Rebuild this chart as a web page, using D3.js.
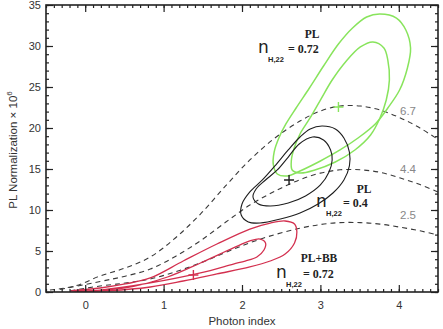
<!DOCTYPE html>
<html>
<head>
<meta charset="utf-8">
<script src="https://cdn.jsdelivr.net/npm/d3@7"></script>
<style>
body { margin: 0; background: #fff; }
svg { display: block; }
.tick text { font-family: "Liberation Sans", Arial, sans-serif; font-size: 11px; fill: #333; }
</style>
</head>
<body>
<div id="chart"></div>
<script>
/**** DATA (photon index, PL normalization x 1e6) *****/
const xTicks = [0, 1, 2, 3, 4];
const yTicks = [0, 5, 10, 15, 20, 25, 30, 35];

// constant flux curves
const flux67 = [[-0.45,0.24],[-0.13,0.73],[0.19,1.95],[0.51,2.93],[0.83,4.27],[1.15,6.59],[1.47,9.51],[1.79,12.93],[2.10,16.1],[2.42,18.78],[2.74,20.85],[3.0,22.07],[3.25,22.68],[3.51,22.68],[3.76,22.2],[4.02,21.22],[4.27,20.0],[4.5,18.6]];
const flux44 = [[-0.32,0.3],[0.19,1.28],[0.51,1.93],[0.83,2.8],[1.15,4.33],[1.47,6.25],[1.79,8.5],[2.10,10.6],[2.42,12.3],[2.74,13.7],[3.0,14.5],[3.25,14.9],[3.51,14.9],[3.76,14.6],[4.02,13.9],[4.27,13.1],[4.5,12.2]];
const flux25 = [[-0.19,0.15],[0.19,0.73],[0.51,1.09],[0.83,1.59],[1.15,2.46],[1.47,3.55],[1.79,4.82],[2.10,6.0],[2.42,7.0],[2.74,7.78],[3.0,8.23],[3.25,8.46],[3.51,8.46],[3.76,8.28],[4.02,7.9],[4.27,7.46],[4.5,6.95]];
const fluxLabels = ['6.7', '4.4', '2.5'];

// confidence contours
const greenOuter = [[3.76,33.9],[3.97,33.41],[4.09,31.95],[4.15,29.76],[4.11,27.32],[4.01,24.63],[3.86,22.44],[3.70,20.49],[3.48,18.78],[3.25,17.32],[3.0,15.98],[2.74,14.76],[2.58,14.15],[2.45,14.39],[2.40,15.49],[2.41,17.07],[2.47,18.78],[2.56,20.49],[2.69,22.44],[2.86,24.88],[3.04,27.56],[3.23,30.24],[3.41,32.2],[3.59,33.54]];
const greenInner = [[3.67,30.49],[3.81,29.76],[3.86,28.29],[3.88,25.85],[3.84,23.41],[3.76,21.22],[3.64,19.15],[3.44,17.32],[3.19,15.85],[2.93,14.88],[2.74,14.51],[2.64,14.88],[2.63,16.1],[2.67,17.68],[2.74,19.27],[2.86,21.1],[3.0,23.41],[3.15,25.85],[3.32,28.05],[3.51,29.88]];
const blackOuter = [[3.02,20.24],[3.19,19.88],[3.30,18.78],[3.37,17.07],[3.37,15.37],[3.30,13.66],[3.16,12.07],[2.97,10.73],[2.74,9.63],[2.49,8.9],[2.23,8.41],[2.08,8.54],[1.99,9.39],[2.0,10.73],[2.10,12.2],[2.26,13.66],[2.42,15.37],[2.59,17.32],[2.74,18.9],[2.87,19.88]];
const blackInner = [[2.90,18.9],[3.04,18.54],[3.13,17.32],[3.15,16.1],[3.11,14.63],[3.0,13.05],[2.81,11.71],[2.59,10.85],[2.36,10.49],[2.21,10.73],[2.14,11.59],[2.18,12.56],[2.30,13.66],[2.45,14.88],[2.59,16.46],[2.73,18.05]];
const redOuter = [[-0.19,0.12],[0.19,0.49],[0.51,0.98],[0.83,1.71],[1.25,3.78],[1.68,5.85],[2.10,7.68],[2.36,8.41],[2.55,8.66],[2.67,8.29],[2.70,7.32],[2.67,5.98],[2.55,4.63],[2.36,3.78],[2.10,3.05],[1.68,2.2],[1.25,1.34],[0.83,0.61],[0.32,0.18]];
const redInner = [[-0.13,0.06],[0.51,0.49],[1.05,1.83],[1.47,3.54],[1.89,5.37],[2.10,6.22],[2.23,6.46],[2.30,5.98],[2.28,5.12],[2.19,4.27],[2.04,3.78],[1.89,3.41],[1.47,2.32],[0.83,1.1],[0.19,0.24]];

// best fits
const bestFits = [[3.23,22.56],[2.6,13.66],[1.38,2.07]];

/**** CHART *****/
const W = 443, H = 329;
const svg = d3.select('#chart').append('svg').attr('width', W).attr('height', H);

const x = d3.scaleLinear().domain([-0.5, 4.5]).range([46, 438]);
const y = d3.scaleLinear().domain([0, 35]).range([292, 5]);

const green = '#88e45c', black = '#1e1e1e', red = '#d3304f';

const line = d3.line().x(d => x(d[0])).y(d => y(d[1])).curve(d3.curveCatmullRom);
const closed = d3.line().x(d => x(d[0])).y(d => y(d[1])).curve(d3.curveCatmullRomClosed);

// flux curves
[flux67, flux44, flux25].forEach(c => {
	svg.append('path').attr('d', line(c)).attr('fill', 'none')
		.attr('stroke', '#3a3a3a').attr('stroke-width', 1.1).attr('stroke-dasharray', '5,4');
});
svg.selectAll('.flab').data(fluxLabels).join('text')
	.attr('x', 408).attr('y', (d,i) => [115, 173, 219][i])
	.attr('text-anchor', 'middle').attr('font-family', 'Liberation Sans, Arial, sans-serif')
	.attr('font-size', 11.5).attr('fill', '#888').text(d => d);

// contours
[[greenOuter, green, 1.5], [greenInner, green, 1.5], [blackOuter, black, 1.1], [blackInner, black, 1.1], [redOuter, red, 1.3], [redInner, red, 1.3]]
	.forEach(c => {
		svg.append('path').attr('d', closed(c[0])).attr('fill', 'none')
			.attr('stroke', c[1]).attr('stroke-width', c[2]);
	});

// crosses
const crossCols = [green, black, red];
bestFits.forEach((p, i) => {
	const cx = x(p[0]), cy = y(p[1]);
	svg.append('path').attr('d', `M${cx-5},${cy}H${cx+5}M${cx},${cy-5}V${cy+5}`)
		.attr('stroke', crossCols[i]).attr('stroke-width', 1.4);
});

// axes, ticks inward on all four sides
const xMinor = d3.range(-0.5, 4.51, 0.1).map(v => +v.toFixed(2));
const yMinor = d3.range(0, 35.01, 1);

function drawAxis(gen, tr) {
	const g = svg.append('g').attr('transform', tr).call(gen);
	g.select('.domain').remove();
	g.selectAll('line').attr('stroke', '#222').attr('stroke-width', 1.2);
	return g;
}
drawAxis(d3.axisBottom(x).tickValues(xMinor).tickSize(-3).tickFormat(''), 'translate(0,292)');
drawAxis(d3.axisBottom(x).tickValues(xTicks).tickSize(-7).tickPadding(9).tickFormat(d3.format('d')), 'translate(0,292)');
drawAxis(d3.axisTop(x).tickValues(xMinor).tickSize(-3).tickFormat(''), 'translate(0,5)');
drawAxis(d3.axisTop(x).tickValues(xTicks).tickSize(-7).tickFormat(''), 'translate(0,5)');
drawAxis(d3.axisLeft(y).tickValues(yMinor).tickSize(-3).tickFormat(''), 'translate(46,0)');
drawAxis(d3.axisLeft(y).tickValues(yTicks).tickSize(-7).tickPadding(5).tickFormat(d3.format('d')), 'translate(46,0)');
drawAxis(d3.axisRight(y).tickValues(yMinor).tickSize(-3).tickFormat(''), 'translate(438,0)');
drawAxis(d3.axisRight(y).tickValues(yTicks).tickSize(-7).tickFormat(''), 'translate(438,0)');

svg.append('rect').attr('x', 46).attr('y', 5).attr('width', 392).attr('height', 287)
	.attr('fill', 'none').attr('stroke', '#222').attr('stroke-width', 1.6);

// axis titles
svg.append('text').attr('x', 242).attr('y', 325).attr('text-anchor', 'middle')
	.attr('font-family', 'Liberation Sans, Arial, sans-serif').attr('font-size', 11.5).attr('fill', '#333')
	.text('Photon index');
const yl = svg.append('text').attr('transform', 'translate(17,150) rotate(-90)').attr('text-anchor', 'middle')
	.attr('font-family', 'Liberation Sans, Arial, sans-serif').attr('font-size', 11.5).attr('fill', '#333');
yl.append('tspan').text('PL Normalization × 10');
yl.append('tspan').attr('dy', -5).attr('font-size', 8).text('6');

// model labels
function modelLabel(title, tx, ty, nx, ny, val, vx) {
	svg.append('text').attr('x', tx).attr('y', ty).attr('text-anchor', 'middle')
		.attr('font-family', 'Liberation Serif, Times, serif').attr('font-weight', 'bold')
		.attr('font-size', 11.5).attr('fill', '#222').text(title);
	svg.append('text').attr('x', nx).attr('y', ny)
		.attr('font-family', 'DejaVu Sans, sans-serif').attr('font-size', 17).attr('fill', '#222').text('n');
	svg.append('text').attr('x', nx + 10).attr('y', ny + 9)
		.attr('font-family', 'Liberation Sans, Arial, sans-serif').attr('font-weight', 'bold')
		.attr('font-size', 7.5).attr('fill', '#222').text('H,22');
	svg.append('text').attr('x', vx).attr('y', ny)
		.attr('font-family', 'Liberation Serif, Times, serif').attr('font-weight', 'bold')
		.attr('font-size', 12).attr('fill', '#222').text('= ' + val);
}
modelLabel('PL', 312, 38, 258, 53, '0.72', 288);
modelLabel('PL', 364, 193, 316, 207, '0.4', 343);
modelLabel('PL+BB', 319, 262, 276, 278, '0.72', 303);
</script>
</body>
</html>
